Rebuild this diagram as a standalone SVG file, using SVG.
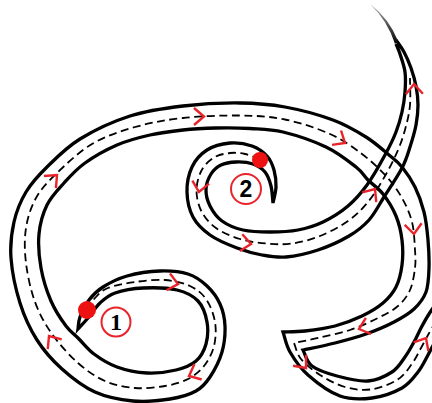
<svg xmlns="http://www.w3.org/2000/svg" width="432" height="403" viewBox="0 0 432 403">
<style>
.edge{fill:none;stroke:#000;stroke-width:3.3;stroke-linejoin:miter;stroke-miterlimit:4}
.dash{fill:none;stroke:#000;stroke-width:1.8;stroke-dasharray:8 4.5}
.arrow{fill:none;stroke:#e8232a;stroke-width:2.4;stroke-linejoin:miter}
.dot{fill:#ee1111}
.ring{fill:none;stroke:#e8232a;stroke-width:2}
.n1{font-family:"Liberation Serif",serif;font-weight:bold;font-size:24px;text-anchor:middle;fill:#000}
.n2{font-family:"Liberation Sans",sans-serif;font-weight:bold;font-size:23px;text-anchor:middle;fill:#000}
</style>
<defs>
<path id="chev" class="arrow" d="M-10,-8.5 L0,0 L-10,8.5"/>
<linearGradient id="tailg" gradientUnits="userSpaceOnUse" x1="0" y1="44" x2="0" y2="4">
<stop offset="0" stop-color="#000"/><stop offset="1" stop-color="#b0b0b0"/>
</linearGradient>
</defs>
<rect width="432" height="403" fill="#fff"/>
<g id="connectors">
<g id="route1">
<path class="edge" d="M440,298 C437.3,302 432.2,309 429,314 S423.5,323.3 421,328 S416.7,337.2 414,342 S408.7,352 405,357 S398.2,368 392,372 S377.2,380.3 368,381 S346.3,378.5 337,376 S317.7,370.3 312,366 S305.3,354 303,350 C311,348.3 324.5,345.7 335,343 S356.2,337.5 366,334 S386,326.2 394,322 S408.7,314 414,309 S423.5,298.8 426,292 S428.7,276.7 429,268 S428.8,249.3 428,240 S426.2,220.8 424,212 S418.7,194.5 415,187 S406.3,172.3 402,167 S395,160 389,155 S375.3,142.8 366,137 S346.5,125 333,120 S300.5,109.8 285,107 S257,103.2 240,103 S201.3,103.8 183,106 S147.2,110.5 130,116 S93.8,130.5 80,139 S56,158.2 47,167 S31.5,182.8 26,192 S16.5,211 14,222 S10,244.5 11,258 S15.7,289.3 20,303 S30,329 37,340 S52.3,360.3 62,369 S83.2,386.7 95,392 S120.5,399.8 133,401 S159.5,400.7 170,399 S189.3,394.7 196,391 S205.7,383.5 210,377 S219.5,360.5 222,352 S225.3,334 225,326 S223,310.7 220,304 S212.3,291 207,286 S195.8,276.5 188,274 S170.2,270.7 160,271 S136.5,273.3 127,276 S109.3,283 103,287 S92.8,295 89,300 S81.8,312.2 80,317 S78.5,326 78,329 C80.5,326.3 84.3,322.3 88,318 S95.5,307.2 100,303 S107.8,295.5 115,293 S132.7,288.5 143,288 S167.8,287.8 177,290 S193,295.7 198,301 S205.7,314.8 207,322 S207.8,337.5 206,344 S201,356.7 196,361 S184.2,368 176,370 S156.8,373.5 147,373 S125.8,370.2 117,367 S100.3,358.7 94,354 S83.7,343.7 79,339 S70.7,332.3 66,326 S55.2,310.7 51,301 S43,279.2 41,268 S38,244.5 39,234 S42.8,213.5 47,205 S57.7,190 64,183 S76.2,169.3 85,163 S106.2,149.7 117,145 S139,137.5 150,135 S172,131.2 183,130 S204.8,128.3 216,128 S238.8,127.8 250,128.5 S270.3,128.9 283,132 S313.8,141.2 326,147 S349,161.5 356,167 S363.5,175.5 368,180 S378.3,188 383,194 S392.8,208.3 396,216 S401,231.8 402,240 S403,257.2 402,265 S399.2,280.7 396,287 S388.7,298.2 383,303 S370,312.2 362,316 S344.5,323.5 335,326 S313.7,330 305,331 S288.5,331.8 283,332 C284.8,337 285.8,344.8 290,352 S299.7,367.7 308,375 S329.3,392.2 340,396 S361.7,399.3 372,398 S394.3,392.3 402,388 S413.7,377.5 418,372 S425.2,360 428,355 S432.3,346.5 435,342 S441.7,331.5 444,328"/>
<path class="dash" d="M87,310 C89,307 91.5,301.7 95,298 S101.3,290.7 108,288 S125.5,283.3 135,282 S155.8,279.3 165,280 S183.2,282.8 190,286 S201.8,293 206,299 S213.7,314.2 215,322 S215.8,338.7 214,346 S208.3,360.5 204,366 S194.5,375.7 188,379 S173.8,384.5 165,386 S145,388.8 135,388 S114.5,385.2 105,381 S86.8,370.8 78,363 S59.2,344.2 52,334 S39.3,313.8 35,302 S27.5,275.3 26,263 S24.3,238.8 26,228 S31,207 36,198 S46.7,183 56,174 S78.8,151.8 92,144 S119.8,131.3 135,127 S165.5,119.9 183,118 S223,115.3 240,115.5 S270,116.4 285,119.5 S317.2,128.3 330,134 S352.7,147 362,154 S379.3,168.7 386,176 S397.7,190.3 402,198 S409.8,213.3 412,222 S414.5,242.3 415,250 S415.8,261.3 415,268 S412.8,283.7 410,290 S403.3,301.3 398,306 S386,314 378,318 S359.7,326.8 350,330 S329.3,335.3 320,337.5 S300.5,341.6 294,343 C295.8,347 296.7,353.7 301,359 S312.7,370.3 320,375 S336.7,384.6 345,387 S361.3,390.5 370,389.5 S390.1,384.2 397,380 S407.5,369.8 411.5,364.5 S418.3,352.9 421,348 S425.2,340 428,335 S435.5,322.3 438,318"/>
</g>
<g id="route2">
<path class="edge" d="M396,44 C397,46.5 398.5,49.3 400,54 S404.2,65.7 405,72 S405.5,85.3 405,92 S403.5,105.3 402,112 S398.8,124.8 396,132 S389.8,146.2 385,155 S373.2,176.5 367,185 S355.3,199.8 348,206 S331.3,218 323,222 S306.8,228.3 298,230 S279.2,232 270,232 S251,231.8 243,230 S227.5,225 222,221 S212.7,211.3 210,206 S205.8,194.3 206,189 S208.5,178 211,174 S216.8,167 221,165 S230.7,162.2 236,162 S248.2,162.3 253,164 S262,168.3 265,172 S269.7,180.8 271,186 S272.5,198.8 273,203 C273.8,199 275.8,192.5 276,187 S275.5,175.2 274,170 S270.7,160 267,156 S258.2,148.2 252,146 S237.5,142.3 230,143 S213.3,146 207,150 S195.3,160 192,167 S186.8,183.7 187,192 S189.2,209.8 193,217 S202.7,229.8 210,235 S228.3,244.7 237,248 S253.8,253.5 262,255 S276.7,257.8 286,257 S307.5,253.5 318,250 S340.5,241 349,236 S363.2,226.5 369,220 S378.5,205.7 384,197 S397.7,176.3 402,168 S407.7,154.2 410,147 S414.7,132 416,125 S418,111.5 418,105 S417.2,92.2 416,86 S413,73.7 411,68 S406.5,56.7 404,52 S398,43 396,40"/>
<path d="M395,44 Q387.5,20.5 370,4 Q389.5,19 398,41 Z" fill="url(#tailg)"/>
<path class="dash" d="M260,159 C256.3,157.8 250,155 245,154 S235.2,152.4 230,153 S218.8,154.6 214,157.5 S204.4,165 201.5,170.5 S196.5,183.7 196.5,190.5 S198.3,205.3 201.5,211.5 S209.6,223.4 216,228 S231.7,236.4 240,239 S257.3,242.8 266,243.5 S283,244.8 292,243.5 S310.7,239.8 320,236 S340,226.7 348,221 S361.8,209.5 368,202 S380,184.7 385,176 S394.6,158 398,150 S403.5,135.5 405.5,128 S409.3,113.3 410,105 S410,84.8 410,78"/>
</g>
</g>
<g id="arrows">
<use href="#chev" transform="translate(57,175) rotate(-45)"/>
<use href="#chev" transform="translate(204,116.5) rotate(0)"/>
<use href="#chev" transform="translate(345,143) rotate(32)"/>
<use href="#chev" transform="translate(414,234) rotate(85)"/>
<use href="#chev" transform="translate(359,329) rotate(162)"/>
<use href="#chev" transform="translate(306,368) rotate(50)"/>
<use href="#chev" transform="translate(426,338) rotate(-60)"/>
<use href="#chev" transform="translate(199,192) rotate(100)"/>
<use href="#chev" transform="translate(251,244) rotate(8)"/>
<use href="#chev" transform="translate(375,189) rotate(-55)"/>
<use href="#chev" transform="translate(414,84) rotate(-92)"/>
<use href="#chev" transform="translate(49,336) rotate(-125)"/>
<use href="#chev" transform="translate(178,284) rotate(12)"/>
<use href="#chev" transform="translate(189,376) rotate(155)"/>
</g>
<g id="start1">
<circle class="dot" cx="87" cy="310" r="9"/>
<circle class="ring" cx="116" cy="322" r="14.5"/>
<text class="n1" x="116" y="330">1</text>
</g>
<g id="start2">
<circle class="dot" cx="260" cy="160" r="8"/>
<circle class="ring" cx="246" cy="189" r="15"/>
<text class="n2" x="246" y="197">2</text>
</g>
</svg>
